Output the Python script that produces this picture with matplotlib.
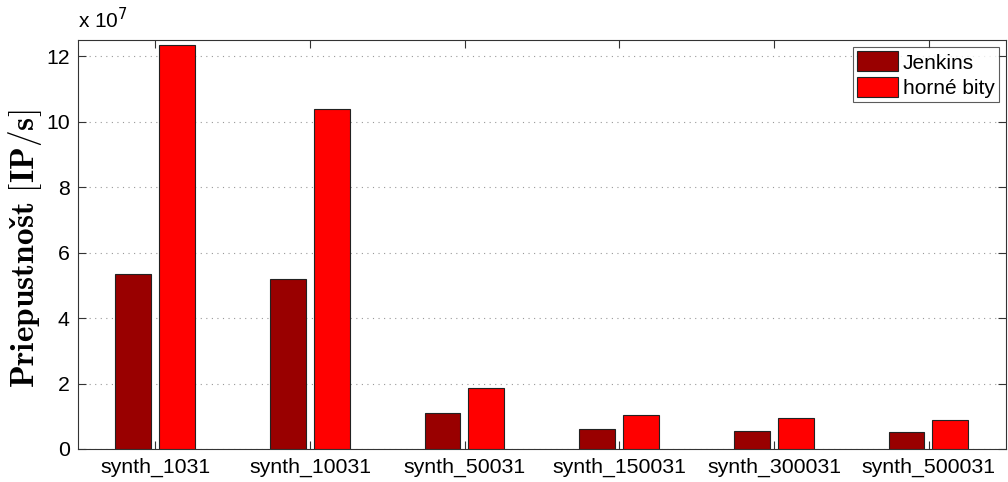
import numpy as np
import matplotlib
matplotlib.use("Agg")
import matplotlib.pyplot as plt

categories = ["synth_1031", "synth_10031", "synth_50031",
              "synth_150031", "synth_300031", "synth_500031"]
jenkins = [5.34, 5.21, 1.10, 0.60, 0.55, 0.51]      # x 1e7 IP/s
horne_bity = [12.35, 10.38, 1.87, 1.04, 0.96, 0.90]  # x 1e7 IP/s

plt.rcParams['font.family'] = ['Liberation Sans', 'DejaVu Sans']

fig = plt.figure(figsize=(10.08, 4.82), dpi=100)
ax = fig.add_axes([0.0774, 0.0685, 0.9206, 0.8485])

x = np.arange(1, len(categories) + 1)
w = 0.232
ax.bar(x - 0.143, jenkins, w, color='#990000', edgecolor='#222222',
       linewidth=0.8, label='Jenkins', zorder=3)
ax.bar(x + 0.14, horne_bity, w, color='#ff0000', edgecolor='#222222',
       linewidth=0.8, label='horné bity', zorder=3)

ax.set_xlim(0.5, 6.5)
ax.set_ylim(0, 12.5)
ax.set_xticks(x)
ax.set_xticklabels(categories, fontsize=15.3)
ax.set_yticks(np.arange(0, 13, 2))
ax.set_yticklabels([str(v) for v in range(0, 13, 2)], fontsize=15.3)
ax.tick_params(direction='in', top=True, right=True, length=6,
               width=0.8, color='#333333', pad=6)
ax.yaxis.grid(True, linestyle=(0, (1, 4)), color='#999999', linewidth=0.8)
ax.set_axisbelow(True)
for s in ax.spines.values():
    s.set_color('#333333')
    s.set_linewidth(0.8)

ax.set_ylabel(r'$\mathbf{Priepustnos\check{t}\ [IP/s]}$', math_fontfamily='cm',
              fontsize=24)
ax.yaxis.set_label_coords(-0.037, 0.49)
ax.text(0.0, 1.02, r'x 10$^7$', transform=ax.transAxes, fontsize=15,
        ha='left', va='bottom')

leg = ax.legend(loc='upper right', fontsize=15, frameon=True, fancybox=False,
                edgecolor='#333333', handlelength=2.0, handleheight=1.1,
                handletextpad=0.2, borderpad=0.2, labelspacing=0.2,
                borderaxespad=0.35)
leg.get_frame().set_linewidth(0.8)

fig.savefig('out.png', dpi=100)
